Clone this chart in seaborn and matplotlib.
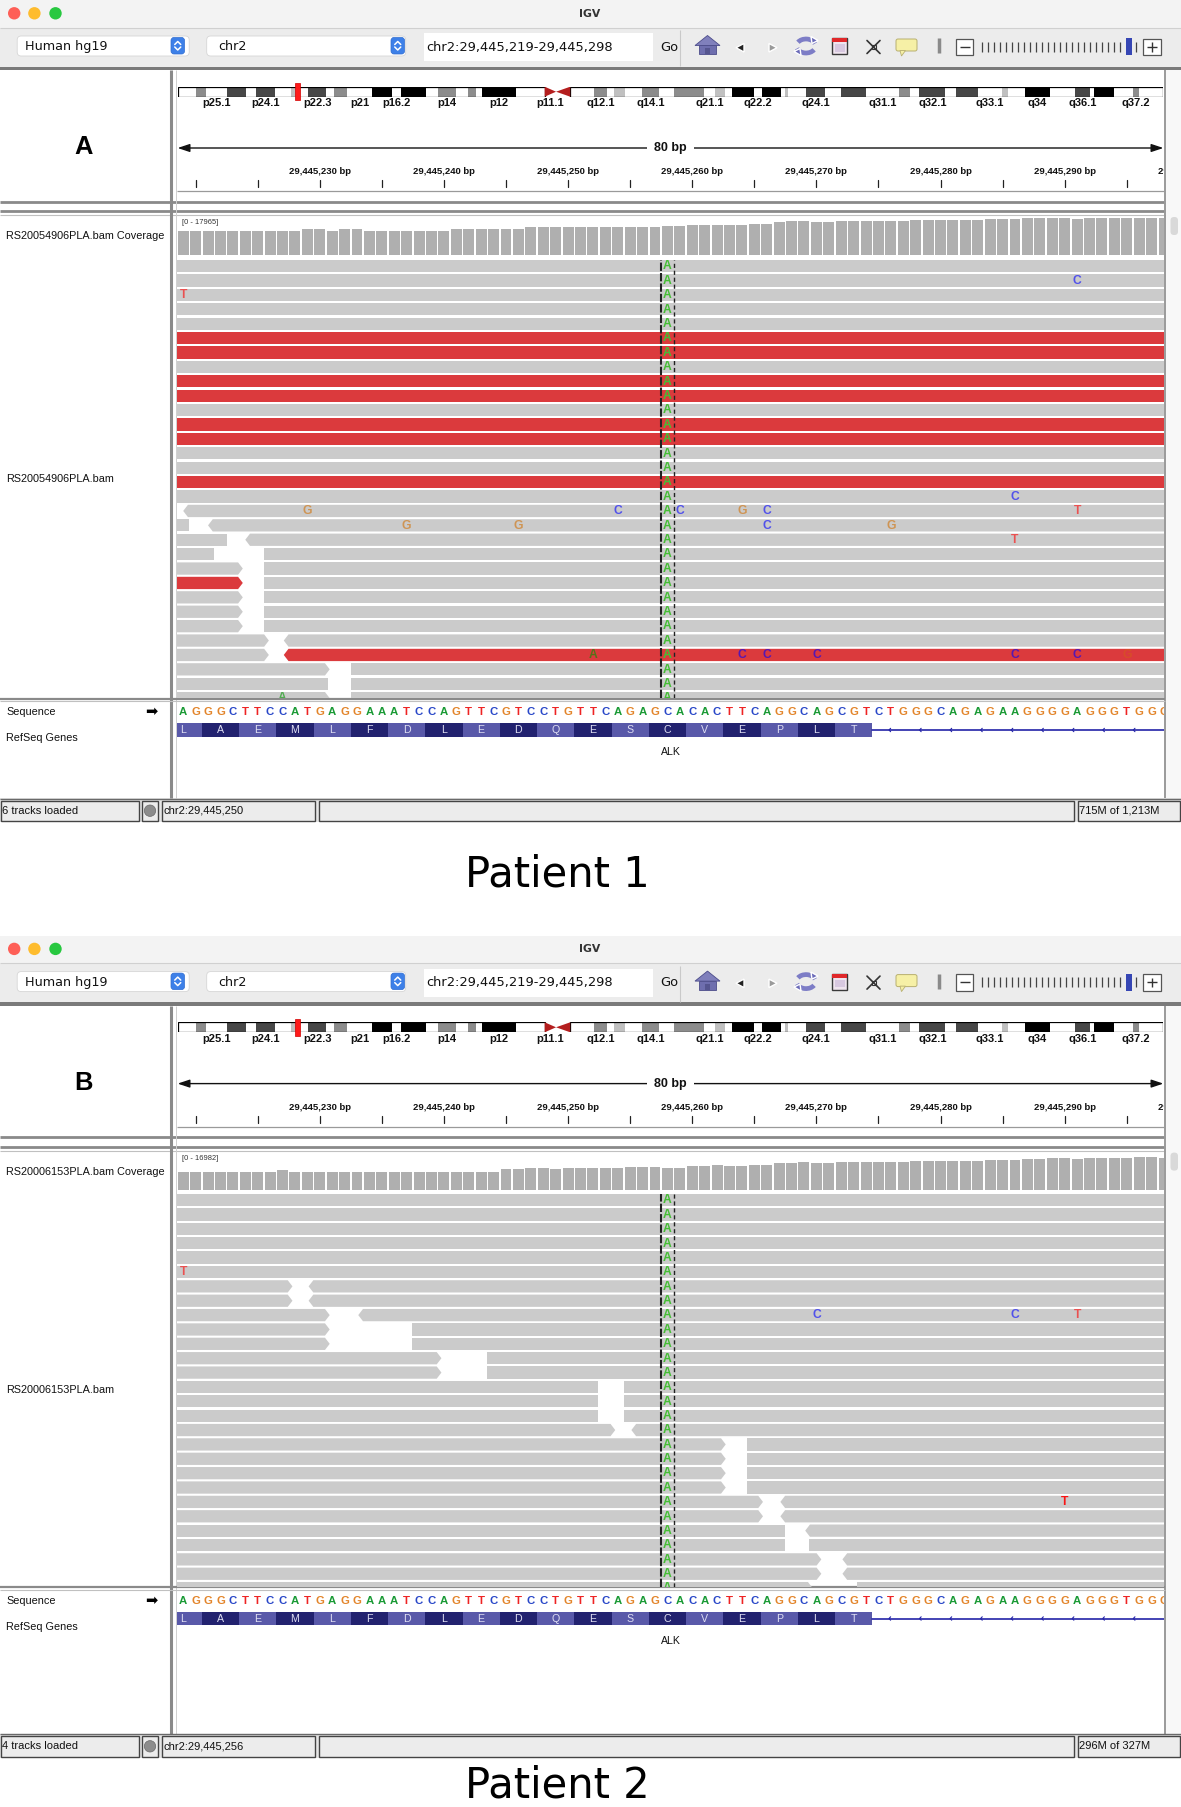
import numpy as np
import pandas as pd
import matplotlib
matplotlib.use("Agg")
import matplotlib.pyplot as plt
import seaborn as sns
from matplotlib.patches import Rectangle, Polygon, FancyBboxPatch, Circle, Arc

# ============================ data ============================
GENOME = "Human hg19"
CHROM = "chr2"
VIEW_START = 29445219            # first base in view (1-based)
VIEW_END = 29445298
VIEW_SPAN_BP = 79.5              # bases visible across the data panel
VIEW_LABEL = "80 bp"
REF_SEQ = "AGGGCTTCCATGAGGAAATCCAGTTCGTCCTGTTCAGAGCACACTTCAGGCAGCGTCTGGGCAGAGAAGGGGAGGGTGGG"
AA_SEQ = "LAEMLFDLEDQESCVEPLT"
FIRST_CODON_BASE = 29445218
EXON_LAST_BASE = 29445274
GENE_NAME = "ALK"
ALT_POS = 29445258
ALT_ALLELE = "A"

CHR2_LEN_MB = 243.2
BAND_NAMES = ["p25.3", "p25.2", "p25.1", "p24.3", "p24.2", "p24.1", "p23.3", "p23.2", "p23.1",
              "p22.3", "p22.2", "p22.1", "p21", "p16.3", "p16.2", "p16.1", "p15", "p14", "p13.3",
              "p13.2", "p13.1", "p12", "p11.2", "p11.1", "q11.1", "q11.2", "q12.1", "q12.2",
              "q12.3", "q13", "q14.1", "q14.2", "q14.3", "q21.1", "q21.2", "q21.3", "q22.1",
              "q22.2", "q22.3", "q23.1", "q23.2", "q23.3", "q24.1", "q24.2", "q24.3", "q31.1",
              "q31.2", "q31.3", "q32.1", "q32.2", "q32.3", "q33.1", "q33.2", "q33.3", "q34",
              "q35", "q36.1", "q36.2", "q36.3", "q37.1", "q37.2", "q37.3"]
BAND_START = [0.0, 4.4, 7.0, 12.2, 16.7, 19.2, 24.0, 27.9, 30.0, 32.1, 36.6, 38.6, 41.8, 47.8,
              52.9, 55.0, 61.3, 64.1, 68.6, 71.5, 73.5, 75.0, 83.3, 90.5, 93.3, 96.8, 102.7,
              106.0, 107.5, 110.2, 114.4, 118.8, 122.4, 129.9, 132.5, 135.1, 136.8, 142.2, 144.1,
              148.7, 149.9, 150.5, 154.9, 159.8, 163.7, 169.7, 178.0, 180.6, 183.0, 189.4, 191.9,
              197.4, 203.3, 204.9, 209.0, 215.3, 221.5, 225.2, 226.1, 231.0, 235.6, 237.3]
BAND_END = [4.4, 7.0, 12.2, 16.7, 19.2, 24.0, 27.9, 30.0, 32.1, 36.6, 38.6, 41.8, 47.8, 52.9,
            55.0, 61.3, 64.1, 68.6, 71.5, 73.5, 75.0, 83.3, 90.5, 93.3, 96.8, 102.7, 106.0,
            107.5, 110.2, 114.4, 118.8, 122.4, 129.9, 132.5, 135.1, 136.8, 142.2, 144.1, 148.7,
            149.9, 150.5, 154.9, 159.8, 163.7, 169.7, 178.0, 180.6, 183.0, 189.4, 191.9, 197.4,
            203.3, 204.9, 209.0, 215.3, 221.5, 225.2, 226.1, 231.0, 235.6, 237.3, 243.2]
BAND_STAIN = ["gneg", "gpos50", "gneg", "gpos75", "gneg", "gpos75", "gneg", "gpos25", "gneg",
              "gpos75", "gneg", "gpos50", "gneg", "gpos100", "gneg", "gpos100", "gneg", "gpos50",
              "gneg", "gpos50", "gneg", "gpos100", "gneg", "acen", "acen", "gneg", "gpos50",
              "gneg", "gpos25", "gneg", "gpos50", "gneg", "gpos50", "gneg", "gpos25", "gneg",
              "gpos100", "gneg", "gpos100", "gneg", "gpos25", "gneg", "gpos75", "gneg", "gpos75",
              "gneg", "gpos50", "gneg", "gpos75", "gneg", "gpos75", "gneg", "gpos25", "gneg",
              "gpos100", "gneg", "gpos75", "gneg", "gpos100", "gneg", "gpos50", "gneg"]
BAND_LABELS = ["p25.1", "p24.1", "p22.3", "p21", "p16.2", "p14", "p12", "p11.1", "q12.1",
               "q14.1", "q21.1", "q22.2", "q24.1", "q31.1", "q32.1", "q33.1", "q34", "q36.1", "q37.2"]

# coverage depth per base (bases VIEW_START .. VIEW_END)
COV_A = [11810, 11790, 11820, 11805, 11830, 11800, 11815, 11825, 11790, 11810,
         12620, 12630, 11820, 12610, 12640, 11800, 11830, 11815, 11805, 11820,
         11790, 11810, 12620, 12600, 12650, 12630, 12610, 12640, 13420, 13450,
         13410, 13440, 13430, 13445, 13425, 13435, 13415, 13440, 13430, 14080,
         14070, 14560, 14570, 14555, 14580, 14565, 15050, 15060, 16020, 16510,
         16500, 16020, 16030, 16500, 16510, 16520, 16505, 16495, 16510, 16990,
         17000, 16985, 17005, 16995, 16990, 17480, 17470, 17490, 17950, 17965,
         17940, 17960, 17480, 17955, 17960, 17945, 17965, 17950, 17940, 17960]
COV_A_MAX = 17965
COV_B = [9290, 9310, 9300, 9295, 9305, 9300, 9310, 9290, 10190, 9300,
         9310, 9295, 9305, 9300, 9290, 9310, 9300, 9305, 9295, 9300,
         9310, 9290, 9300, 9305, 9300, 9295, 10550, 10560, 11390, 11380,
         10710, 11390, 11380, 11200, 11050, 11030, 11550, 11560, 11540, 11380,
         11390, 12080, 12070, 12780, 12080, 12090, 12600, 12610, 13650, 13660,
         14180, 13650, 13660, 14180, 14170, 14190, 14180, 14175, 14185, 14880,
         14870, 14890, 14880, 14875, 14885, 15400, 15410, 15405, 15930, 15935,
         16455, 16460, 15930, 16455, 16460, 16450, 16457, 16982, 16975, 16460]
COV_B_MAX = 16982

# reads: rows that hold one read spanning the whole view, red (discordant) rows,
# and split rows: (row, start offset bp, end offset bp, strand, colour key)
FULL_ROWS_A = 17
RED_ROWS_A = [5, 6, 8, 9, 11, 12, 15]
SPLIT_READS_A = [
    (17, 0.5, 95, "-", "g"),
    (18, -10, 1.0, "", "g"), (18, 2.5, 95, "-", "g"),
    (19, -10, 4.0, "", "g"), (19, 5.5, 95, "-", "g"),
    (20, -10, 3.0, "", "g"), (20, 7.0, 95, "", "g"),
    (21, -10, 5.3, "+", "g"), (21, 7.0, 95, "", "g"),
    (22, -10, 5.3, "+", "r"), (22, 7.0, 95, "", "g"),
    (23, -10, 5.3, "+", "g"), (23, 7.0, 95, "", "g"),
    (24, -10, 5.3, "+", "g"), (24, 7.0, 95, "", "g"),
    (25, -10, 5.3, "+", "g"), (25, 7.0, 95, "", "g"),
    (26, -10, 7.4, "+", "g"), (26, 8.6, 95, "-", "g"),
    (27, -10, 7.4, "+", "g"), (27, 8.6, 95, "-", "r"),
    (28, -10, 12.3, "+", "g"), (28, 14.0, 95, "", "g"),
    (29, -10, 12.2, "", "g"), (29, 14.0, 95, "", "g"),
    (30, -10, 12.3, "+", "g"), (30, 14.0, 95, "", "g"),
]
N_ROWS_A = 31
# mismatches: (row, base index in view 1..80, base, opacity)
MISMATCH_A = [(1, 73, "C", .6), (2, 1, "T", .6), (16, 68, "C", .6),
              (17, 11, "G", .6), (17, 36, "C", .6), (17, 41, "C", .6), (17, 46, "G", .6),
              (17, 48, "C", .6), (17, 73, "T", .6),
              (18, 19, "G", .6), (18, 28, "G", .6), (18, 48, "C", .6), (18, 58, "G", .6),
              (19, 68, "T", .6),
              (27, 34, "A", .6), (27, 46, "C", .6), (27, 48, "C", .6), (27, 52, "C", .6),
              (27, 68, "C", .6), (27, 73, "C", .6), (27, 77, "G", .35),
              (30, 9, "A", .6)]

FULL_ROWS_B = 6
RED_ROWS_B = []
SPLIT_READS_B = [
    (6, -10, 9.3, "+", "g"), (6, 10.6, 95, "-", "g"),
    (7, -10, 9.3, "+", "g"), (7, 10.6, 95, "-", "g"),
    (8, -10, 12.3, "+", "g"), (8, 14.6, 95, "-", "g"),
    (9, -10, 12.3, "+", "g"), (9, 18.9, 95, "", "g"),
    (10, -10, 12.3, "+", "g"), (10, 18.9, 95, "", "g"),
    (11, -10, 21.3, "+", "g"), (11, 25.0, 95, "", "g"),
    (12, -10, 21.3, "+", "g"), (12, 25.0, 95, "", "g"),
    (13, -10, 33.9, "", "g"), (13, 36.0, 95, "", "g"),
    (14, -10, 33.9, "", "g"), (14, 36.0, 95, "", "g"),
    (15, -10, 33.9, "", "g"), (15, 36.0, 95, "", "g"),
    (16, -10, 35.3, "+", "g"), (16, 36.6, 95, "-", "g"),
    (17, -10, 44.2, "+", "g"), (17, 45.9, 95, "", "g"),
    (18, -10, 44.2, "+", "g"), (18, 45.9, 95, "", "g"),
    (19, -10, 44.2, "+", "g"), (19, 45.9, 95, "", "g"),
    (20, -10, 44.2, "+", "g"), (20, 45.9, 95, "", "g"),
    (21, -10, 47.2, "+", "g"), (21, 48.6, 95, "-", "g"),
    (22, -10, 47.2, "+", "g"), (22, 48.6, 95, "-", "g"),
    (23, -10, 49.0, "", "g"), (23, 50.6, 95, "-", "g"),
    (24, -10, 49.0, "", "g"), (24, 50.9, 95, "", "g"),
    (25, -10, 51.9, "+", "g"), (25, 53.6, 95, "-", "g"),
    (26, -10, 51.9, "+", "g"), (26, 53.6, 95, "-", "g"),
    (27, -10, 51.2, "+", "g"), (27, 54.8, 95, "", "g"),
]
N_ROWS_B = 28
MISMATCH_B = [(5, 1, "T", .6), (8, 52, "C", .6), (8, 68, "C", .6), (8, 73, "T", .6),
              (21, 72, "T", .9)]

SAMPLE_A = "RS20054906PLA.bam"
SAMPLE_B = "RS20006153PLA.bam"
STATUS_A = ["6 tracks loaded", "chr2:29,445,250", "715M of 1,213M"]
STATUS_B = ["4 tracks loaded", "chr2:29,445,256", "296M of 327M"]
PANEL_LETTERS = ["A", "B"]
CAPTIONS = ["Patient 1", "Patient 2"]

# ============================ style ============================
sns.set_theme(style="white")
plt.rcParams["font.family"] = ["Liberation Sans", "DejaVu Sans"]
UI = ["DejaVu Sans"]
LS = ["Liberation Sans", "DejaVu Sans"]

SEQ_COLORS = {"A": "#1a9a35", "C": "#2947c8", "G": "#e3852b", "T": "#ee2424"}
MM_COLORS = {"A": (0, 0.59, 0), "C": (0, 0, 1), "G": (0.82, 0.44, 0.02), "T": (1, 0, 0)}
READ_COLORS = {"g": "#cbcbcb", "r": "#db3a3d"}
STAIN_COLORS = {"gneg": "#ffffff", "gpos25": "#c0c0c0", "gpos50": "#8c8c8c",
                "gpos75": "#474747", "gpos100": "#000000", "acen": "#b41e1e"}

W, H = 1181, 1807
fig = plt.figure(figsize=(W / 100, H / 100), dpi=100)
fig.patch.set_facecolor("white")
cv = fig.add_axes([0, 0, 1, 1])
cv.set_xlim(0, W)
cv.set_ylim(H, 0)
cv.axis("off")

DX0, DX1 = 177, 1164
VIEW_LEFT = VIEW_START - 0.5
VIEW_RIGHT = VIEW_LEFT + VIEW_SPAN_BP


def pax(x0, y0, x1, y1):
    a = fig.add_axes([x0 / W, 1 - y1 / H, (x1 - x0) / W, (y1 - y0) / H])
    a.axis("off")
    return a


def rect(x0, y0, x1, y1, **kw):
    cv.add_patch(Rectangle((x0, y0), x1 - x0, y1 - y0, **kw))


def hl(y, x0, x1, **kw):
    cv.plot([x0, x1], [y, y], solid_capstyle="butt", **kw)


def vl(x, y0, y1, **kw):
    cv.plot([x, x], [y0, y1], solid_capstyle="butt", **kw)


def stepper(x, y):
    cv.add_patch(FancyBboxPatch((x, y), 13.5, 16.5, boxstyle="round,pad=0,rounding_size=3",
                                fc="#3d80e8", ec="#2f6cd0", lw=0.5))
    cx = x + 6.75
    cv.plot([cx - 3, cx, cx + 3], [y + 7, y + 4, y + 7], color="white", lw=1.1)
    cv.plot([cx - 3, cx, cx + 3], [y + 9.5, y + 12.5, y + 9.5], color="white", lw=1.1)


def draw_header(T, letter):
    # window frame / title bar
    rect(0, T, W, T + 28, fc="#f3f3f3", ec="none")
    hl(T + 27.8, 0, W, color="#d0d0d0", lw=0.8)
    for x, c in zip([14.2, 34.4, 55.5], ["#fe5f57", "#febc2e", "#28c840"]):
        cv.add_patch(Circle((x, T + 13.3), 6.2, fc=c, ec="none"))
    cv.text(590, T + 13.8, "IGV", ha="center", va="center", fontsize=7.8,
            fontweight="bold", family=UI, color="#333333")
    # toolbar
    rect(0, T + 28, W, T + 67, fc="#ececec", ec="none")
    cv.add_patch(FancyBboxPatch((17.2, T + 36), 172, 20, boxstyle="round,pad=0,rounding_size=4",
                                fc="white", ec="#d6d6d6", lw=0.6))
    cv.text(25, T + 46.5, GENOME, va="center", fontsize=9.2, family=UI, color="#111111")
    stepper(171, T + 37.5)
    cv.add_patch(FancyBboxPatch((206.7, T + 36), 199, 20, boxstyle="round,pad=0,rounding_size=4",
                                fc="white", ec="#d6d6d6", lw=0.6))
    cv.text(218, T + 46.5, CHROM, va="center", fontsize=9.2, family=UI, color="#111111")
    stepper(391, T + 37.5)
    rect(424, T + 33, 653, T + 61, fc="white", ec="none")
    cv.text(426, T + 47, f"{CHROM}:{VIEW_START:,}-{VIEW_END:,}", va="center", fontsize=9.4,
            family=UI, color="#111111")
    cv.text(660.5, T + 47, "Go", va="center", fontsize=9.4, family=UI, color="#111111")
    vl(680.4, T + 30, T + 66, color="#c9c9c9", lw=0.8)
    # icons
    cv.add_patch(Polygon([(695, T + 45.5), (707.5, T + 35.5), (720, T + 45.5)], closed=True,
                         fc="#8080bc", ec="#4c4c8a", lw=0.6))
    rect(699, T + 45, 716, T + 54, fc="#6e6eae", ec="#4c4c8a", lw=0.6)
    rect(705, T + 48, 710, T + 54, fc="#55558f", ec="none")
    cv.add_patch(Polygon([(736, T + 47.7), (744, T + 43.5), (744, T + 52)], fc="#222222"))
    cv.add_patch(Polygon([(777, T + 47.7), (769, T + 43.5), (769, T + 52)], fc="#9a9a9a"))
    cv.add_patch(Arc((806, T + 46), 19, 14, theta1=25, theta2=165, lw=3.4, color="#7d7dc6"))
    cv.add_patch(Arc((806, T + 46), 19, 14, theta1=205, theta2=345, lw=3.4, color="#7d7dc6"))
    cv.add_patch(Polygon([(811, T + 36.5), (818, T + 40.5), (812, T + 43.5)], fc="#6a6ab8"))
    cv.add_patch(Polygon([(801, T + 55.5), (794, T + 51.5), (800, T + 48.5)], fc="#6a6ab8"))
    rect(832, T + 38, 847, T + 54, fc="#efe4ee", ec="#3a3a3a", lw=1.0)
    rect(832, T + 38, 847, T + 42, fc="#e0282a", ec="none")
    rect(834.5, T + 44, 844.5, T + 51.5, fc="#d8c8e0", ec="none")
    cv.plot([867, 880], [T + 40.5, T + 53.5], color="#333333", lw=1.2)
    cv.plot([867, 880], [T + 53.5, T + 40.5], color="#333333", lw=1.2)
    rect(871.5, T + 45, 875.5, T + 49, fc="white", ec="#333333", lw=0.8)
    cv.add_patch(FancyBboxPatch((896, T + 39), 21, 12, boxstyle="round,pad=0,rounding_size=2",
                                fc="#f6f0a6", ec="#b8b070", lw=0.7))
    cv.add_patch(Polygon([(900, T + 50.5), (901.5, T + 56), (905.5, T + 50.5)], fc="#f6f0a6",
                         ec="#b8b070", lw=0.6))
    vl(938.5, T + 38, T + 53, color="#8a8a8a", lw=2.5)
    rect(956, T + 38.5, 973, T + 55, fc="white", ec="#555555", lw=0.9)
    hl(T + 46.8, 959.5, 969.5, color="#333333", lw=1.0)
    for xt in np.linspace(982, 1120, 24):
        vl(xt, T + 41.7, T + 51.7, color="#444444", lw=0.9)
    rect(1125.7, T + 38, 1131.7, T + 55, fc="#3646b4", ec="none")
    vl(1136, T + 41.7, T + 51.7, color="#444444", lw=0.9)
    rect(1143, T + 38.5, 1161, T + 55, fc="white", ec="#555555", lw=0.9)
    hl(T + 46.8, 1147, 1157, color="#333333", lw=1.0)
    vl(1152, T + 42, T + 51.5, color="#333333", lw=1.0)
    # dark separator under the toolbar
    rect(0, T + 66.7, W, T + 70, fc="#7a7a7a", ec="none")
    # panel letter
    cv.text(84, T + 147, letter, ha="center", va="center", fontsize=18.4, fontweight="bold",
            family=LS, color="#000000")
    # ideogram
    ia = pax(178, T + 86.7, 1163.4, T + 96.7)
    ia.set_xlim(0, CHR2_LEN_MB)
    ia.set_ylim(1, 0)
    starts = np.array(BAND_START)
    ends = np.array(BAND_END)
    for s, e, st in zip(starts, ends, BAND_STAIN):
        if st != "acen":
            ia.add_patch(Rectangle((s, 0), e - s, 1, fc=STAIN_COLORS[st], ec="none"))
    p_end = ends[BAND_NAMES.index("p11.2")]
    q_start = starts[BAND_NAMES.index("q11.2")]
    cen = ends[BAND_NAMES.index("p11.1")]
    ia.add_patch(Rectangle((0, 0), p_end, 1, fc="none", ec="#000000", lw=0.9))
    ia.add_patch(Rectangle((q_start, 0), CHR2_LEN_MB - q_start, 1, fc="none", ec="#000000", lw=0.9))
    ia.add_patch(Polygon([(p_end, 0), (cen, 0.5), (p_end, 1)], fc=STAIN_COLORS["acen"], ec="none"))
    ia.add_patch(Polygon([(q_start, 0), (cen, 0.5), (q_start, 1)], fc=STAIN_COLORS["acen"], ec="none"))
    locus_mb = (VIEW_START + VIEW_END) / 2 / 1e6
    ia.add_patch(Rectangle((locus_mb - 0.62, -0.35), 1.24, 1.7, fc="#ff1a1a", ec="#d00000",
                           lw=0.5, clip_on=False, zorder=5))
    for nm in BAND_LABELS:
        i = BAND_NAMES.index(nm)
        ia.text((BAND_START[i] + BAND_END[i]) / 2, 1.62, nm, ha="center", va="center",
                fontsize=8, fontweight="bold", family=LS, color="#111111", clip_on=False)
    # ruler
    ra = pax(DX0, T + 140, DX1, T + 192)
    ra.set_xlim(VIEW_LEFT, VIEW_RIGHT)
    ra.set_ylim(192, 140)
    ra.annotate("", xy=(VIEW_RIGHT - 0.05, 148), xytext=(VIEW_LEFT + 0.05, 148),
                arrowprops=dict(arrowstyle="<|-|>,head_length=0.6,head_width=0.2",
                                color="#111111", lw=1.0, shrinkA=0, shrinkB=0))
    ra.text((VIEW_LEFT + VIEW_RIGHT) / 2, 148, VIEW_LABEL, ha="center", va="center",
            fontsize=9, fontweight="bold", family=LS, color="#111111",
            bbox=dict(boxstyle="square,pad=0.55", fc="white", ec="none"))
    for p in range(29445220, 29445300, 5):
        ra.plot([p, p], [180, 187], color="#222222", lw=0.9)
    for p in range(29445230, 29445310, 10):
        ra.text(p, 172, f"{p:,} bp", ha="center", va="center", fontsize=6.8,
                fontweight="bold", family=LS, color="#111111", clip_on=True)
    hl(T + 191, DX0, DX1, color="#9a9a9a", lw=0.9)
    # header separators
    hl(T + 201.7, 0, 1165, color="#8a8a8a", lw=2.0)
    hl(T + 211, 0, 1165, color="#8a8a8a", lw=2.0)
    hl(T + 215, 0, 1165, color="#c0c0c0", lw=0.8)
    cv.add_patch(Circle((1172.5, T + 206.5), 3.2, fc="#dddddd", ec="none"))


def read_poly(x0, x1, row, strand, h=0.854, arrow=0.38):
    y0, y1, ym = row, row + h, row + h / 2
    if strand == "+":
        return [(x0, y0), (x1 - arrow, y0), (x1, ym), (x1 - arrow, y1), (x0, y1)]
    if strand == "-":
        return [(x0 + arrow, y0), (x1, y0), (x1, y1), (x0 + arrow, y1), (x0, ym)]
    return [(x0, y0), (x1, y0), (x1, y1), (x0, y1)]


def draw_tracks(T, sample, cov, cov_max, cov_top, cov_bot, full_rows, red_rows, split_reads,
                n_rows, mismatches, reads_top, reads_bot, row_px, status):
    # frame lines
    vl(171, T + 70, T + 798, color="#8a8a8a", lw=2.2)
    vl(176, T + 70, T + 798, color="#d0d0d0", lw=0.7)
    vl(1165, T + 70, T + 798, color="#9a9a9a", lw=1.4)
    rect(1166, T + 70, W, T + 798, fc="#f8f8f8", ec="none")
    cv.add_patch(FancyBboxPatch((1170.5, T + 217), 7.5, 18, boxstyle="round,pad=0,rounding_size=3.5",
                                fc="#d9d9d9", ec="none"))
    # coverage track
    cv.text(6, (cov_top + cov_bot) / 2 - 1, f"{sample} Coverage", va="center", fontsize=7.8,
            family=LS, color="#111111")
    cv.text(182, T + 222.5, f"[0 - {cov_max}]", va="center", fontsize=5.4, family=LS,
            color="#333333")
    ca = pax(DX0, cov_top, DX1, cov_bot)
    df = pd.DataFrame({"pos": np.arange(VIEW_START, VIEW_START + len(cov)), "depth": cov})
    sns.barplot(data=df, x="pos", y="depth", native_scale=True, color="#afafaf", saturation=1,
                width=0.88, errorbar=None, edgecolor="none", linewidth=0, ax=ca)
    ca.set_xlim(VIEW_LEFT, VIEW_RIGHT)
    ca.set_ylim(0, cov_max)
    ca.axis("off")
    # alignments
    cv.text(6, (reads_top + reads_bot) / 2, sample, va="center", fontsize=7.8, family=LS,
            color="#111111")
    ra = pax(DX0, reads_top, DX1, reads_bot)
    ra.set_xlim(VIEW_LEFT, VIEW_RIGHT)
    ra.set_ylim((reads_bot - reads_top) / row_px, 0)
    reads = [(r, -10, 95, "", "r" if r in red_rows else "g") for r in range(full_rows)]
    reads += split_reads
    for row, s, e, strand, ck in reads:
        ra.add_patch(Polygon(read_poly(VIEW_LEFT + s, VIEW_LEFT + e, row, strand), closed=True,
                             fc=READ_COLORS[ck], ec="none"))
    for row, b, base, alpha in mismatches:
        ra.text(VIEW_START + b - 1, row + 0.45, base, ha="center", va="center", fontsize=8.7,
                fontweight="bold", family=LS, color=MM_COLORS[base], alpha=alpha, clip_on=True)
    for row in range(n_rows):
        ra.text(ALT_POS, row + 0.45, ALT_ALLELE, ha="center", va="center", fontsize=8.7,
                fontweight="bold", family=LS, color="#45bd35", clip_on=True)
    ra.axvline(ALT_POS - 0.5, color="#222222", lw=1.5, ls=(0, (4, 1)))
    ra.axvline(ALT_POS + 0.5, color="#222222", lw=1.0, ls=(0, (3, 2)))
    # separator
    hl(reads_bot + 0.6, 0, 1165, color="#8a8a8a", lw=1.6)
    hl(reads_bot + 3.2, 0, 1165, color="#c0c0c0", lw=0.8)
    # sequence + genes
    lo = reads_bot
    cv.text(6, lo + 14, "Sequence", va="center", fontsize=7.8, family=LS, color="#111111")
    cv.text(151, lo + 13.5, "\u27a1", ha="center", va="center", fontsize=10.5,
            family=["DejaVu Sans"], color="#000000")
    cv.text(6, lo + 40, "RefSeq Genes", va="center", fontsize=7.8, family=LS, color="#111111")
    sa = pax(DX0, lo + 4, DX1, T + 798)
    sa.set_xlim(VIEW_LEFT, VIEW_RIGHT)
    sa.set_ylim(T + 798 - lo, 4)
    for i, base in enumerate(REF_SEQ):
        sa.text(VIEW_START + i, 14, base, ha="center", va="center", fontsize=8.2,
                fontweight="bold", family=LS, color=SEQ_COLORS[base], clip_on=True)
    codon_left = FIRST_CODON_BASE - 0.5 + 3 * np.arange(len(AA_SEQ))
    sa.bar(codon_left, 13.4, bottom=25.3, width=3, align="edge", linewidth=0,
           color=["#5959a9" if k % 2 == 0 else "#22226f" for k in range(len(AA_SEQ))])
    for k, aa in enumerate(AA_SEQ):
        sa.text(codon_left[k] + 1.5, 32.2, aa, ha="center", va="center", fontsize=7.7,
                family=LS, color="#dedef2", clip_on=True)
    exon_end = EXON_LAST_BASE + 0.5
    sa.plot([exon_end, VIEW_RIGHT], [32, 32], color="#2424a8", lw=1.2)
    for xm in np.arange(exon_end + 1.35, VIEW_RIGHT - 0.3, 2.46):
        sa.plot([xm + 0.13, xm, xm + 0.13], [30.3, 32, 33.7], color="#2424a8", lw=0.8)
    sa.text((VIEW_LEFT + VIEW_RIGHT) / 2, 54, GENE_NAME, ha="center", va="center",
            fontsize=7.6, family=LS, color="#111111")
    # status bar
    S = T + 798
    rect(0, S, W, S + 24, fc="#e6e6e6", ec="none")
    hl(S + 0.5, 0, W, color="#6a6a6a", lw=1.0)
    for x0, x1 in [(0.5, 138.5), (142, 158), (161.5, 314.6), (319, 1073.7), (1077.5, 1179.5)]:
        rect(x0, S + 2.5, x1, S + 23, fc="#ececec", ec="#444444", lw=1.0)
    cv.add_patch(Circle((150, S + 12.7), 5.7, fc="#8c8c8c", ec="#6a6a6a", lw=0.5))
    cv.text(2, S + 12.8, status[0], va="center", fontsize=8, family=LS, color="#111111")
    cv.text(163, S + 12.8, status[1], va="center", fontsize=8, family=LS, color="#111111")
    cv.text(1079, S + 12.8, status[2], va="center", fontsize=8, family=LS, color="#111111")


# ---------------- panel A ----------------
TA = 0.0
draw_header(TA, PANEL_LETTERS[0])
draw_tracks(TA, SAMPLE_A, COV_A, COV_A_MAX, 218, 255, FULL_ROWS_A, RED_ROWS_A, SPLIT_READS_A,
            N_ROWS_A, MISMATCH_A, 260, 698, 14.4, STATUS_A)
cv.text(557, 886, CAPTIONS[0], ha="center", va="baseline", fontsize=30, family=["DejaVu Sans"],
        color="#000000")

# ---------------- panel B ----------------
TB = 935.6
draw_header(TB, PANEL_LETTERS[1])
draw_tracks(TB, SAMPLE_B, COV_B, COV_B_MAX, 1157, 1189.5, FULL_ROWS_B, RED_ROWS_B, SPLIT_READS_B,
            N_ROWS_B, MISMATCH_B, 1194, 1586.5, 14.37, STATUS_B)
cv.text(557, 1797, CAPTIONS[1], ha="center", va="baseline", fontsize=30, family=["DejaVu Sans"],
        color="#000000")

fig.savefig("out.png", dpi=100, facecolor="white")
